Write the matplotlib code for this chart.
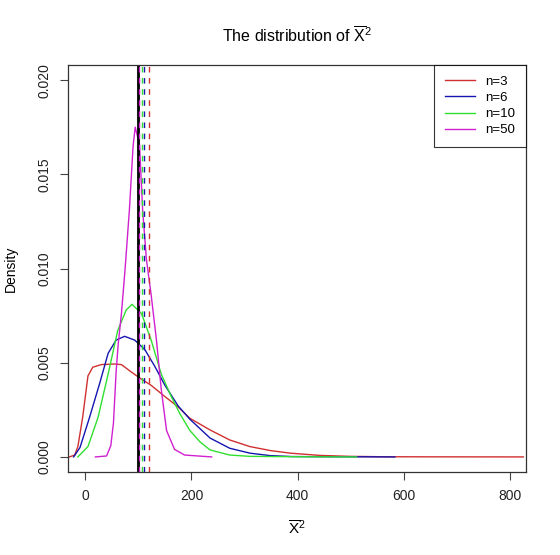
import numpy as np
import matplotlib
matplotlib.use("Agg")
import matplotlib.pyplot as plt

plt.rcParams.update({
    "font.family": ["Liberation Sans", "DejaVu Sans"],
    "mathtext.fontset": "custom",
    "mathtext.rm": "Liberation Sans",
    "mathtext.it": "Liberation Sans",
})

#---------------------------------------------------------------------------
#                               DATA
#---------------------------------------------------------------------------

labels = ["n=3", "n=6", "n=10", "n=50"]
colors = ["#D03030", "#1515B0", "#30E030", "#D020D0"]

x_n3 = [-30, -20, -14, -5, 5, 14, 30, 55, 68, 87, 102, 124, 150, 175, 197,
        235, 272, 310, 348, 386, 442, 499, 560, 650, 825]
y_n3 = [0, 0.0001, 0.00055, 0.0021, 0.0043, 0.00476, 0.0049, 0.00493, 0.0049,
        0.0045, 0.0042, 0.0038, 0.0032, 0.00265, 0.00205, 0.00143, 0.0009,
        0.00055, 0.00034, 0.0002, 0.00008, 0.00003, 0.00001, 0.000005, 0]

x_n6 = [-22, -10, 8, 27, 43, 58, 74, 93, 112, 131, 150, 175, 197, 235, 272,
        310, 348, 389, 450, 583]
y_n6 = [0, 0.0005, 0.0021, 0.0039, 0.0055, 0.0062, 0.0064, 0.0062, 0.0057,
        0.0048, 0.0038, 0.0027, 0.0020, 0.0010, 0.00046, 0.0002, 0.00007,
        0.00002, 0.00001, 0]

x_n10 = [-14, 5, 24, 43, 61, 77, 88, 106, 124, 143, 162, 178, 197, 216, 235,
         272, 310, 400, 511]
y_n10 = [0, 0.00055, 0.0021, 0.0044, 0.0067, 0.0078, 0.0081, 0.0076, 0.0062,
         0.0044, 0.0032, 0.0023, 0.0014, 0.0008, 0.00037, 0.0001, 0.00003,
         0.00001, 0]

x_n50 = [19, 40, 48, 53, 58, 62, 68, 75, 83, 90, 94, 102, 108, 115, 124, 134,
         143, 153, 168, 187, 238]
y_n50 = [0, 0.00005, 0.0006, 0.0018, 0.0045, 0.0060, 0.0076, 0.0100, 0.0131,
         0.0165, 0.0175, 0.0166, 0.0131, 0.0105, 0.0086, 0.0062, 0.0036,
         0.0014, 0.0004, 0.0001, 0]

true_value = 100
means = [120, 110, 106, 101.2]

xs = [x_n3, x_n6, x_n10, x_n50]
ys = [y_n3, y_n6, y_n10, y_n50]

#---------------------------------------------------------------------------
#                               PLOT
#---------------------------------------------------------------------------

fig = plt.figure(figsize=(5.6, 5.55), dpi=100)
ax = fig.add_axes([68/560, 83/555, 458/560, 407/555])

for x, y, c, lab in zip(xs, ys, colors, labels):
    ax.plot(x, y, color=c, linewidth=1, label=lab)

ax.axvline(true_value, color="black", linewidth=2)
for m, c in zip(means, colors):
    ax.axvline(m, color=c, linewidth=1, linestyle=(0, (4, 4)))

ax.set_xlim(-32.6, 830)
ax.set_ylim(-0.0008, 0.0208)
ax.set_xticks([0, 200, 400, 600, 800])
ax.set_yticks([0.0, 0.005, 0.010, 0.015, 0.020])
ax.set_yticklabels(["0.000", "0.005", "0.010", "0.015", "0.020"],
                   rotation=90, va="center")
ax.tick_params(labelsize=10, length=6, width=0.8, color="#444444",
               labelcolor="#222222", pad=6)
for s in ax.spines.values():
    s.set_linewidth(0.9)
    s.set_color("#333333")

ax.set_xlabel(r"$\mathrm{\overline{X}^2}$", fontsize=11, labelpad=12)
ax.set_ylabel("Density", fontsize=10, labelpad=14)
ax.set_title(r"The distribution of $\mathrm{\overline{X}^2}$", fontsize=11.5,
             pad=16)

leg = ax.legend(loc="upper right", fontsize=9.5, frameon=True, fancybox=False,
                edgecolor="black", borderaxespad=0, handlelength=2.3,
                labelspacing=0.3, borderpad=0.8, handletextpad=0.8)
leg.get_frame().set_linewidth(0.8)

fig.savefig("out.png", dpi=100)
